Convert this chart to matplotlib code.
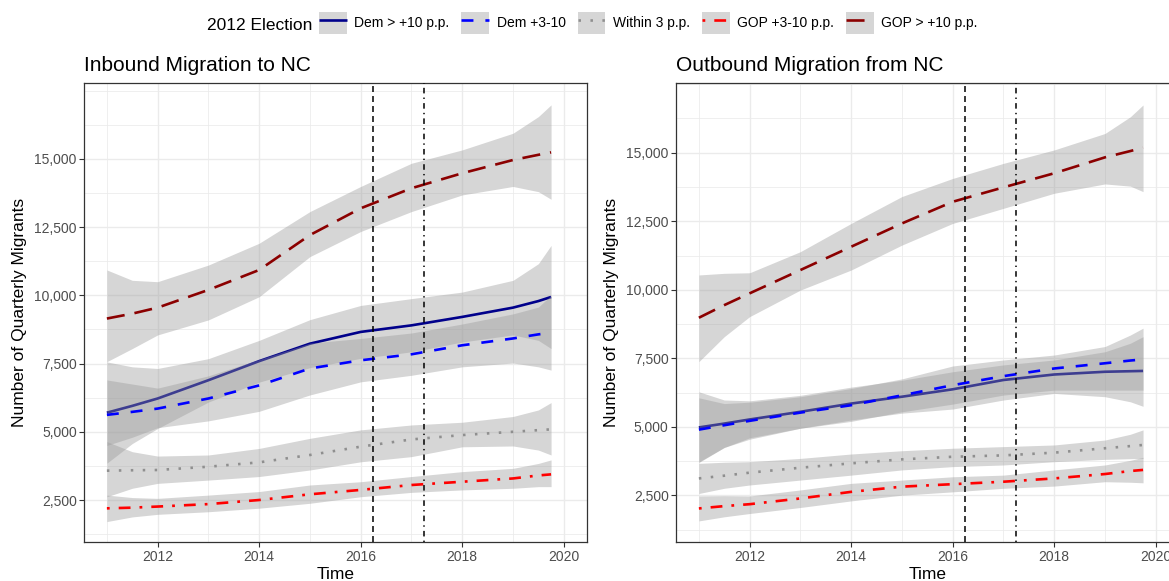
import matplotlib
matplotlib.use('Agg')
import matplotlib.pyplot as plt
from matplotlib.lines import Line2D
from matplotlib.patches import Patch
from matplotlib.legend_handler import HandlerTuple
from matplotlib.ticker import FuncFormatter, FixedLocator

plt.rcParams['font.family'] = ['Liberation Sans', 'DejaVu Sans']
plt.rcParams['lines.scale_dashes'] = False

# quarter-level smooths, sampled yearly (plus the ends of the window)
years = [2011, 2011.5, 2012, 2013, 2014, 2015, 2016, 2017, 2018, 2019, 2019.5, 2019.75]

groups = ['Dem > +10 p.p.', 'Dem +3-10', 'Within 3 p.p.', 'GOP +3-10 p.p.', 'GOP > +10 p.p.']

# inbound migration to NC
in_dem10 = [5700, 5950, 6220, 6890, 7590, 8230, 8660, 8900, 9210, 9550, 9790, 9940]
in_dem10_lo = [3850, 4570, 5120, 6090, 6820, 7350, 7690, 7930, 8290, 8550, 8350, 8050]
in_dem10_hi = [7560, 7380, 7320, 7680, 8350, 9110, 9630, 9880, 10120, 10550, 11160, 11830]
in_dem3 = [5620, 5730, 5850, 6220, 6700, 7320, 7620, 7840, 8170, 8420, 8570, 8630]
in_dem3_lo = [4500, 4800, 5150, 5400, 5750, 6350, 6830, 7070, 7380, 7520, 7380, 7260]
in_dem3_hi = [6900, 6750, 6600, 7050, 7650, 8250, 8420, 8620, 8950, 9320, 9570, 10000]
in_within3 = [3575, 3590, 3600, 3720, 3880, 4150, 4455, 4720, 4880, 5000, 5060, 5090]
in_within3_lo = [2620, 2930, 3110, 3230, 3360, 3600, 3900, 4090, 4450, 4480, 4330, 4150]
in_within3_hi = [4640, 4270, 4110, 4150, 4390, 4760, 5070, 5250, 5350, 5560, 5800, 6070]
in_gop3 = [2195, 2220, 2260, 2350, 2500, 2710, 2870, 3050, 3170, 3290, 3400, 3440]
in_gop3_lo = [1710, 1880, 1975, 2070, 2200, 2380, 2620, 2780, 2870, 2930, 2990, 2990]
in_gop3_hi = [2680, 2590, 2560, 2680, 2810, 3050, 3170, 3360, 3540, 3660, 3840, 3970]
in_gop10 = [9150, 9330, 9550, 10200, 10930, 12210, 13190, 13925, 14475, 14960, 15150, 15240]
in_gop10_lo = [7570, 8050, 8550, 9100, 9950, 11420, 12340, 13070, 13680, 13990, 13800, 13520]
in_gop10_hi = [10930, 10550, 10500, 11110, 11910, 13070, 13990, 14840, 15330, 15940, 16550, 16980]

# outbound migration from NC
out_dem10 = [4980, 5120, 5270, 5550, 5850, 6100, 6370, 6710, 6910, 7010, 7030, 7040]
out_dem10_lo = [3700, 4250, 4600, 4950, 5250, 5500, 5650, 5980, 6220, 6100, 5915, 5750]
out_dem10_hi = [6280, 5980, 5950, 6150, 6450, 6700, 7010, 7260, 7440, 7740, 8050, 8290]
out_dem3 = [4900, 5060, 5220, 5520, 5790, 6150, 6520, 6850, 7130, 7320, 7420, 7460]
out_dem3_lo = [3720, 4250, 4550, 4950, 5200, 5550, 5830, 6160, 6340, 6340, 6340, 6340]
out_dem3_hi = [6060, 5850, 5900, 6100, 6400, 6750, 7220, 7440, 7620, 7930, 8350, 8600]
out_within3 = [3120, 3220, 3330, 3510, 3670, 3815, 3910, 3960, 4060, 4220, 4300, 4340]
out_within3_lo = [2570, 2760, 2880, 3060, 3240, 3430, 3550, 3610, 3730, 3815, 3840, 3850]
out_within3_hi = [3670, 3710, 3730, 3850, 4010, 4130, 4220, 4280, 4340, 4520, 4730, 4890]
out_gop3 = [2025, 2110, 2180, 2390, 2630, 2820, 2910, 3000, 3120, 3280, 3390, 3430]
out_gop3_lo = [1570, 1720, 1840, 2060, 2300, 2510, 2630, 2760, 2840, 3000, 2980, 2960]
out_gop3_hi = [2480, 2490, 2480, 2700, 2940, 3060, 3180, 3240, 3430, 3610, 3780, 3890]
out_gop10 = [8980, 9440, 9870, 10720, 11570, 12420, 13210, 13735, 14250, 14830, 15060, 15180]
out_gop10_lo = [7380, 8290, 9020, 9990, 10720, 11630, 12420, 12970, 13520, 13860, 13780, 13580]
out_gop10_hi = [10540, 10600, 10620, 11390, 12420, 13400, 14060, 14610, 15100, 15700, 16310, 16740]

# election events
event_dashed = 2016.25
event_dotdash = 2017.25

colors = ['#00008B', '#0000FF', '#8F8F8F', '#FF0000', '#8B0000']
dash_styles = [None, (8.6, 8.6), (1.8, 6.8), (2, 6.5, 8.5, 6.5), (13, 7.2)]
LW = 1.9


def draw_panel(ax, title, series, ylim):
    for i, (mid, lo, hi) in enumerate(series):
        ax.fill_between(years, lo, hi, color='#999999', alpha=0.4, lw=0, zorder=3 + 2 * i)
        kw = dict(color=colors[i], lw=LW, zorder=4 + 2 * i, solid_capstyle='butt')
        if dash_styles[i] is not None:
            kw['dashes'] = dash_styles[i]
        ax.plot(years, mid, **kw)

    ax.axvline(event_dashed, color='black', lw=1.1, dashes=(4.3, 2.9), zorder=20)
    ax.axvline(event_dotdash, color='black', lw=1.1, dashes=(1, 3, 4, 3), zorder=20)

    ax.set_xlim(2010.55, 2020.45)
    ax.set_ylim(*ylim)
    ax.xaxis.set_major_locator(FixedLocator([2012, 2014, 2016, 2018, 2020]))
    ax.xaxis.set_minor_locator(FixedLocator([2011, 2013, 2015, 2017, 2019, 2021]))
    ax.yaxis.set_major_locator(FixedLocator([2500, 5000, 7500, 10000, 12500, 15000]))
    ax.yaxis.set_minor_locator(FixedLocator([1250, 3750, 6250, 8750, 11250, 13750, 16250, 17500]))
    ax.xaxis.set_major_formatter(FuncFormatter(lambda v, p: f'{v:.0f}'))
    ax.yaxis.set_major_formatter(FuncFormatter(lambda v, p: f'{v:,.0f}'))

    ax.set_axisbelow(True)
    ax.grid(which='major', color='#EBEBEB', lw=1.0, zorder=0)
    ax.grid(which='minor', color='#EBEBEB', lw=0.55, zorder=0)
    ax.tick_params(which='major', length=3.3, width=0.8, color='#333333',
                   labelsize=10, labelcolor='#4D4D4D', pad=2)
    ax.tick_params(which='minor', length=0)
    for s in ax.spines.values():
        s.set_color('#333333')
        s.set_linewidth(0.9)

    ax.set_title(title, loc='left', fontsize=15, pad=8.9)
    ax.set_xlabel('Time', fontsize=12.5)
    ax.set_ylabel('Number of Quarterly Migrants', fontsize=12.5)
    ax.xaxis.set_label_coords(0.5, -0.054)
    ax.yaxis.set_label_coords(-0.1134, 0.5)


fig = plt.figure(figsize=(11.69, 5.81), dpi=100)
ax1 = fig.add_axes([0.0719, 0.0666, 0.4299, 0.790])
ax2 = fig.add_axes([0.5783, 0.0666, 0.4299, 0.790])

draw_panel(ax1, 'Inbound Migration to NC', [
    (in_dem10, in_dem10_lo, in_dem10_hi),
    (in_dem3, in_dem3_lo, in_dem3_hi),
    (in_within3, in_within3_lo, in_within3_hi),
    (in_gop3, in_gop3_lo, in_gop3_hi),
    (in_gop10, in_gop10_lo, in_gop10_hi),
], (950, 17770))

draw_panel(ax2, 'Outbound Migration from NC', [
    (out_dem10, out_dem10_lo, out_dem10_hi),
    (out_dem3, out_dem3_lo, out_dem3_hi),
    (out_within3, out_within3_lo, out_within3_hi),
    (out_gop3, out_gop3_lo, out_gop3_hi),
    (out_gop10, out_gop10_lo, out_gop10_hi),
], (790, 17530))

# legend across the top, title to the left of the keys
handles = []
for i in range(len(groups)):
    kw = dict(color=colors[i], lw=LW, solid_capstyle='butt')
    if dash_styles[i] is not None:
        kw['dashes'] = dash_styles[i]
    handles.append((Patch(facecolor='#999999', alpha=0.4, edgecolor='none'), Line2D([], [], **kw)))

fig.text(312 / 1169, 1 - 25 / 581, '2012 Election', ha='right', va='center', fontsize=12.5)
fig.legend(handles, groups, handler_map={tuple: HandlerTuple(ndivide=1)},
           loc='center left', bbox_to_anchor=(319 / 1169, 1 - 23 / 581),
           ncol=5, frameon=False, fontsize=10, borderpad=0, borderaxespad=0,
           handlelength=2.0, handleheight=2.1, handletextpad=0.55, columnspacing=0.85)

fig.savefig('out.png', dpi=100)
